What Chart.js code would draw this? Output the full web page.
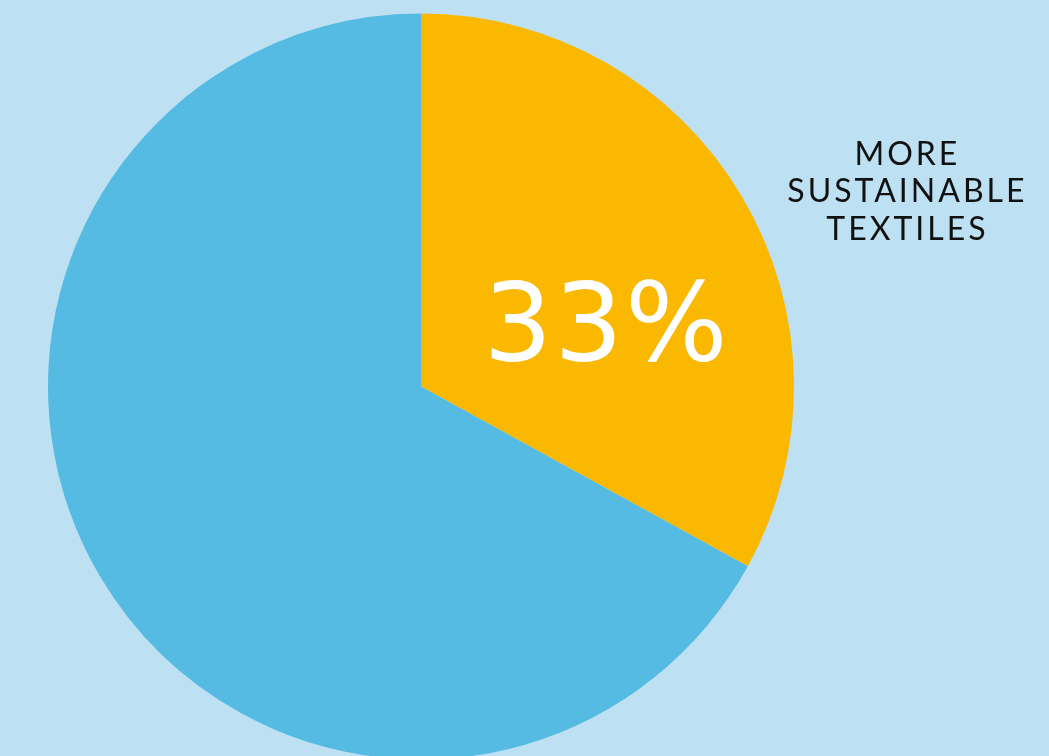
<!DOCTYPE html>
<html>
<head>
<meta charset="utf-8">
<script src="https://cdn.jsdelivr.net/npm/chart.js@4/dist/chart.umd.min.js"></script>
<style>
  html, body { margin: 0; padding: 0; background: #BDE0F3; overflow: hidden; }
  #wrap { position: relative; width: 1049px; height: 770px; }
</style>
</head>
<body>
<div id="wrap"><canvas id="pie"></canvas></div>
<script>
// Share of textiles by type
const categories = ["MORE SUSTAINABLE TEXTILES", "OTHER TEXTILES"];
const shares = [33, 67];
const sliceColors = ["#FAB800", "#55BBE2"];
const valueLabel = "33%";
const calloutLines = ["MORE", "SUSTAINABLE", "TEXTILES"];

// Writes the percentage inside the highlighted slice and the callout beside the pie
const annotations = {
  id: "annotations",
  afterDatasetsDraw(chart) {
    const ctx = chart.ctx;
    const arc = chart.getDatasetMeta(0).data[0];
    const cx = arc.x, cy = arc.y, r = arc.outerRadius;
    ctx.save();
    ctx.textAlign = "center";
    ctx.textBaseline = "alphabetic";

    ctx.fillStyle = "#FFFFFF";
    ctx.font = "400 108px 'DejaVu Sans', sans-serif";
    ctx.letterSpacing = "2px";
    ctx.fillText(valueLabel, cx + r * 0.495 + 1, cy - r * 0.07);

    ctx.fillStyle = "#111111";
    ctx.font = "400 32px Lato, 'Open Sans', sans-serif";
    ctx.letterSpacing = "3px";
    const tx = cx + r * 1.3 + 1.5;
    calloutLines.forEach((line, i) => {
      ctx.fillText(line, tx, cy - r * 0.595 + i * 37.5);
    });
    ctx.restore();
  }
};

new Chart(document.getElementById("pie"), {
  type: "pie",
  data: {
    labels: categories,
    datasets: [{
      data: shares,
      backgroundColor: sliceColors,
      borderWidth: 0
    }]
  },
  options: {
    responsive: true,
    maintainAspectRatio: false,
    animation: false,
    layout: { padding: { left: 48, top: 13, right: 255, bottom: 10 } },
    plugins: {
      legend: { display: false },
      tooltip: { enabled: false }
    }
  },
  plugins: [annotations]
});
</script>
</body>
</html>
